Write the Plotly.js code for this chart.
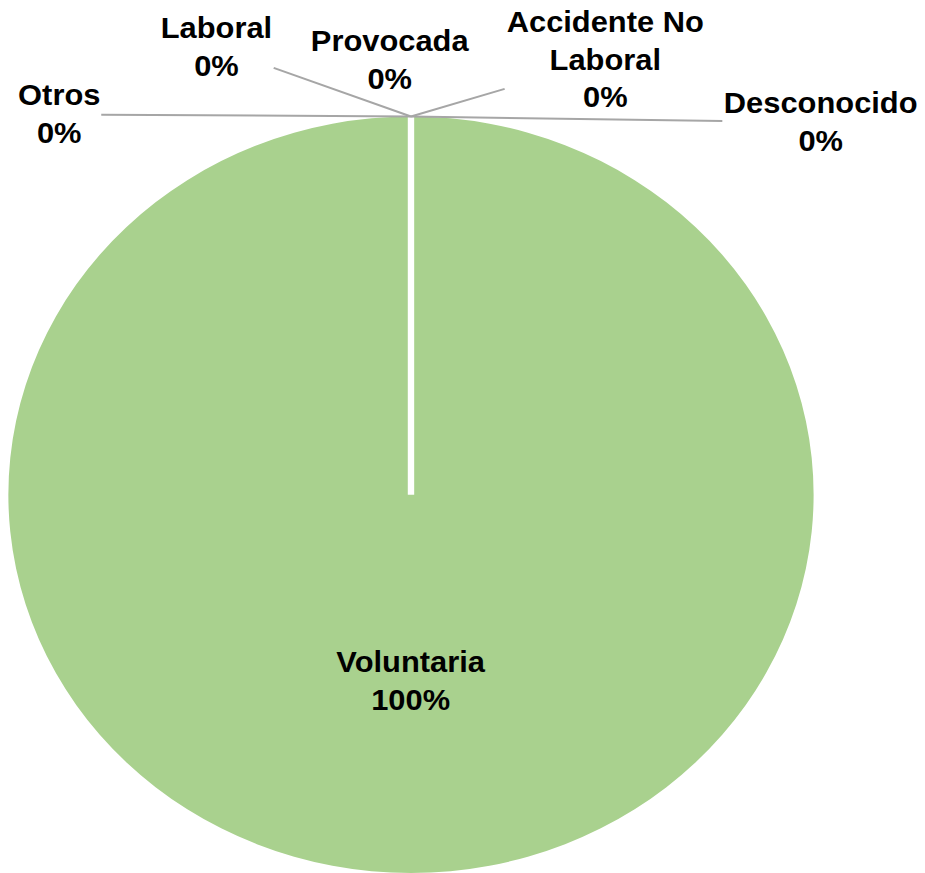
<!DOCTYPE html>
<html>
<head>
<meta charset="utf-8">
<script src="https://cdn.plot.ly/plotly-3.0.1.min.js"></script>
<style>
  html, body { margin: 0; padding: 0; background: #ffffff; overflow: hidden; }
  #plot { width: 869px; height: 873px; transform: scaleX(1.0644); transform-origin: 0 0; }
</style>
</head>
<body>
<div id="plot"></div>
<script>
// ---- data ----
var categories = ["Desconocido", "Accidente No Laboral", "Provocada", "Laboral", "Otros", "Voluntaria"];
var values = [0, 0, 0, 0, 0, 100];
var sliceColor = "#a9d18e";

// ---- layout helpers (not data) ----
var W = 869, H = 873;
var domX = [0.00875, 0.8799];
var domY = [0, 0.8666];
var cxPaper = (domX[0] + domX[1]) / 2;
var cyPaper = (domY[0] + domY[1]) / 2;
var topPaper = domY[1];

// label offsets (pixels from pie top for the small slices)
var labelOffsets = {
  "Otros": {ax: -331, ay: -2, arrow: true},
  "Laboral": {ax: -183, ay: -69, arrow: true},
  "Provocada": {ax: -20, ay: -56, arrow: false},
  "Accidente No Laboral": {ax: 182, ay: -57, arrow: true},
  "Desconocido": {ax: 385, ay: 6, arrow: true}
};
var wrapped = {"Accidente No Laboral": "Accidente No<br>Laboral"};

var total = values.reduce(function (a, b) { return a + b; }, 0);
var font = {family: "Liberation Sans, Arial, sans-serif", size: 29, color: "#000000"};

var annotations = [];
categories.forEach(function (c, i) {
  var pct = Math.round(values[i] / total * 100) + "%";
  var txt = "<b>" + (wrapped[c] || c).replace("<br>", "</b><br><b>") + "</b><br><b>" + pct + "</b>";
  if (labelOffsets[c]) {
    var o = labelOffsets[c];
    if (o.arrow) {
      annotations.push({
        x: cxPaper, y: topPaper, xref: "paper", yref: "paper",
        text: txt, showarrow: true, ax: o.ax, ay: o.ay,
        axref: "pixel", ayref: "pixel",
        arrowhead: 0, arrowwidth: 2, arrowcolor: "#a6a6a6",
        standoff: 0, startstandoff: 0,
        font: font, align: "center"
      });
    } else {
      annotations.push({
        x: cxPaper, y: topPaper, xref: "paper", yref: "paper",
        xanchor: "center", yanchor: "middle",
        text: txt, showarrow: false, xshift: o.ax, yshift: -o.ay,
        font: font, align: "center"
      });
    }
  } else {
    annotations.push({
      x: cxPaper, y: cyPaper, xref: "paper", yref: "paper",
      xanchor: "center", yanchor: "middle",
      text: txt, showarrow: false, yshift: -186,
      font: font, align: "center"
    });
  }
});

var trace = {
  type: "pie",
  labels: categories,
  values: values,
  sort: false,
  direction: "clockwise",
  rotation: 0,
  domain: {x: domX, y: domY},
  marker: {
    colors: categories.map(function () { return sliceColor; }),
    line: {color: "#ffffff", width: 0}
  },
  textposition: "none",
  textinfo: "none",
  hoverinfo: "none",
  showlegend: false
};

// white border between the (zero-size) slices and the full slice: radius at the start angle
var shapes = [{
  type: "line", xref: "paper", yref: "paper",
  x0: cxPaper, y0: cyPaper, x1: cxPaper, y1: topPaper + 0.002,
  line: {color: "#ffffff", width: 6}, layer: "above"
}];

var layout = {
  width: W, height: H,
  margin: {l: 0, r: 0, t: 0, b: 0},
  paper_bgcolor: "#ffffff",
  plot_bgcolor: "#ffffff",
  showlegend: false,
  annotations: annotations,
  shapes: shapes
};

Plotly.newPlot("plot", [trace], layout, {displayModeBar: false, staticPlot: true});
</script>
</body>
</html>
